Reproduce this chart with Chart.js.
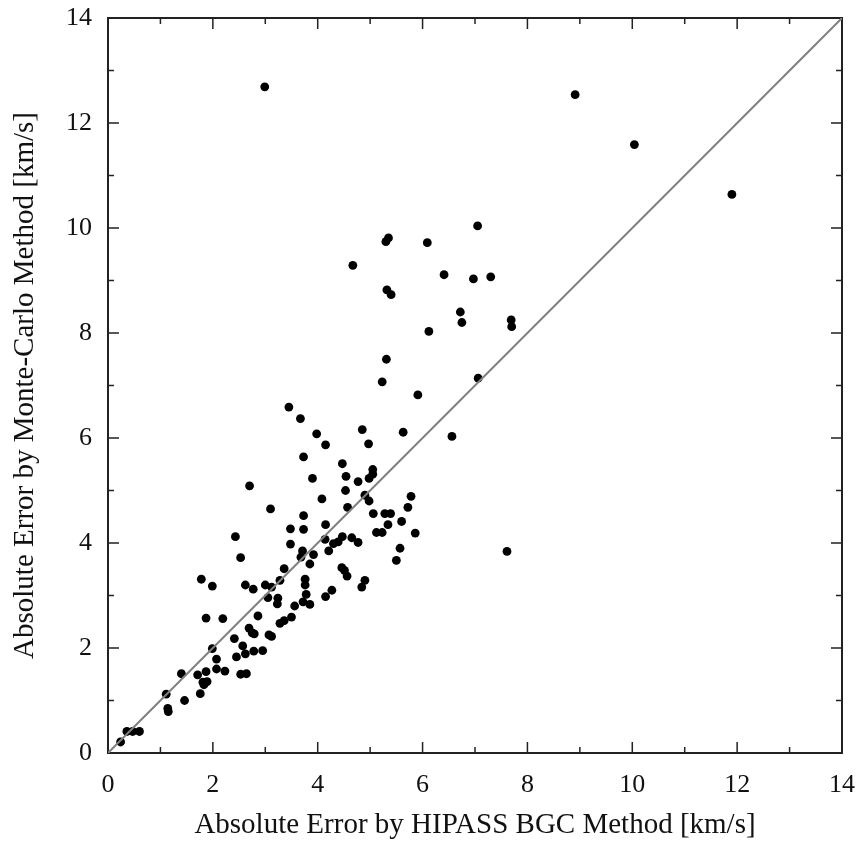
<!DOCTYPE html>
<html>
<head>
<meta charset="utf-8">
<script src="https://cdn.jsdelivr.net/npm/chart.js@4.4.1/dist/chart.umd.min.js"></script>
<style>
  html, body { margin: 0; padding: 0; background: #fff; }
  #wrap { width: 859px; height: 843px; }
</style>
</head>
<body>
<div id="wrap"><canvas id="scatterChart" width="859" height="843"></canvas></div>
<script>
// absolute error by HIPASS BGC method (x) and Monte-Carlo method (y), km/s
const hipassErr = [
  0.24, 0.36, 0.47, 0.60, 1.11, 1.14, 1.15, 1.46, 1.40, 1.76, 1.71, 1.87, 1.81, 1.89, 1.83,
  1.99, 2.07, 2.07, 2.23, 1.78, 1.99, 1.87, 2.19, 2.45, 2.57, 2.62, 2.78, 2.95, 2.53, 2.64,
  2.41, 2.79, 3.12,
  5.23, 5.91, 3.45, 3.67, 3.98, 4.15, 4.85, 5.63, 4.97, 3.73, 3.90, 4.47, 4.54, 4.77, 5.05,
  5.05, 4.98, 4.53, 4.08, 4.90, 4.98, 4.57, 2.70, 3.10, 5.78, 5.72, 5.06, 5.28, 5.39, 5.34,
  5.60, 5.86, 5.12, 5.23, 5.57, 5.50, 3.73, 3.73, 3.48, 3.48, 4.15, 2.43, 2.53, 4.14, 4.21,
  4.30, 4.39, 4.47, 4.65, 4.77, 3.71, 3.68, 3.92, 3.85, 3.36, 3.28, 4.46, 4.51, 4.56, 4.90,
  4.84, 3.76, 3.76, 3.78, 3.72, 3.85, 4.15, 4.27, 2.62, 2.77, 3.00, 3.12, 3.05, 3.24, 3.23,
  3.56, 3.50, 3.36, 3.28, 2.86, 2.69, 2.75, 3.07,
  7.05, 5.35, 5.30, 6.09, 4.67, 6.41, 6.97, 7.30, 5.32, 5.40, 6.72, 6.75, 7.69, 7.70, 6.12,
  5.31, 7.06, 6.56, 7.61,
  2.99, 8.91, 10.04, 11.90
];
const monteCarloErr = [
  0.21, 0.41, 0.41, 0.41, 1.12, 0.85, 0.79, 1.00, 1.51, 1.13, 1.49, 1.55, 1.35, 1.36, 1.30,
  1.99, 1.79, 1.60, 1.56, 3.31, 3.18, 2.57, 2.56, 1.83, 2.04, 1.89, 1.94, 1.95, 1.50, 1.51,
  2.18, 2.27, 2.22,
  7.07, 6.82, 6.59, 6.37, 6.08, 5.87, 6.16, 6.11, 5.89, 5.64, 5.23, 5.51, 5.27, 5.17, 5.40,
  5.31, 5.23, 5.00, 4.84, 4.91, 4.80, 4.68, 5.09, 4.65, 4.89, 4.68, 4.56, 4.56, 4.56, 4.35,
  4.41, 4.19, 4.20, 4.20, 3.90, 3.67, 4.52, 4.26, 4.27, 3.98, 4.35, 4.12, 3.72, 4.07, 3.85,
  3.99, 4.02, 4.12, 4.10, 4.01, 3.85, 3.73, 3.78, 3.60, 3.51, 3.29, 3.53, 3.48, 3.37, 3.29,
  3.16, 3.31, 3.20, 3.02, 2.88, 2.83, 2.98, 3.10, 3.20, 3.12, 3.20, 3.16, 2.96, 2.95, 2.84,
  2.80, 2.59, 2.52, 2.47, 2.61, 2.38, 2.29, 2.25,
  10.04, 9.81, 9.74, 9.72, 9.29, 9.11, 9.03, 9.07, 8.82, 8.73, 8.40, 8.20, 8.25, 8.12, 8.03,
  7.50, 7.14, 6.03, 3.84,
  12.69, 12.54, 11.59, 10.64
];
const equalLine = [0, 14];
const axisMin = 0;
const axisMax = 14;
const tickStep = 2;

const serif = "'Liberation Serif', 'Times New Roman', serif";

const points = hipassErr.map((x, i) => ({ x: x, y: monteCarloErr[i] }));
const diag = equalLine.map(v => ({ x: v, y: v }));

// border box plus inward ticks on all four sides (long at even, short at odd)
const frameTicks = {
  id: "frameTicks",
  beforeDatasetsDraw(chart) {
    const { ctx, chartArea: a, scales } = chart;
    const sx = scales.x, sy = scales.y;
    ctx.save();
    ctx.strokeStyle = "#222";
    ctx.lineWidth = 1.5;
    ctx.beginPath();
    for (let v = axisMin + 1; v < axisMax; v++) {
      const len = v % tickStep === 0 ? 11 : 6;
      const px = sx.getPixelForValue(v);
      const py = sy.getPixelForValue(v);
      ctx.moveTo(px, a.bottom); ctx.lineTo(px, a.bottom - len);
      ctx.moveTo(px, a.top); ctx.lineTo(px, a.top + len);
      ctx.moveTo(a.left, py); ctx.lineTo(a.left + len, py);
      ctx.moveTo(a.right, py); ctx.lineTo(a.right - len, py);
    }
    ctx.stroke();
    ctx.lineWidth = 2;
    ctx.strokeRect(a.left, a.top, a.right - a.left, a.bottom - a.top);
    ctx.restore();
  }
};

new Chart(document.getElementById("scatterChart").getContext("2d"), {
  type: "scatter",
  data: {
    datasets: [
      {
        label: "y = x",
        data: diag,
        showLine: true,
        borderColor: "#808080",
        borderWidth: 2,
        pointRadius: 0,
        pointHoverRadius: 0
      },
      {
        label: "galaxies",
        data: points,
        backgroundColor: "#000",
        borderColor: "#000",
        borderWidth: 0,
        pointRadius: 4.4
      }
    ]
  },
  options: {
    responsive: false,
    animation: false,
    devicePixelRatio: 1,
    layout: { padding: { left: 0, right: 17, top: 18, bottom: 0 } },
    plugins: { legend: { display: false }, tooltip: { enabled: false } },
    scales: {
      x: {
        type: "linear",
        min: axisMin,
        max: axisMax,
        afterFit(s) { s.height = 90; s.paddingLeft = 0; s.paddingRight = 0; },
        grid: { display: false, drawTicks: false, tickLength: 0 },
        border: { display: false },
        ticks: {
          stepSize: tickStep,
          padding: 17,
          maxRotation: 0,
          color: "#111",
          font: { family: serif, size: 26 }
        },
        title: {
          display: true,
          text: "Absolute Error by HIPASS BGC Method [km/s]",
          color: "#111",
          font: { family: serif, size: 29 },
          padding: { top: 0, bottom: 0 }
        }
      },
      y: {
        type: "linear",
        min: axisMin,
        max: axisMax,
        afterFit(s) { s.width = 108; s.paddingTop = 0; s.paddingBottom = 0; },
        grid: { display: false, drawTicks: false, tickLength: 0 },
        border: { display: false },
        ticks: {
          stepSize: tickStep,
          padding: 16,
          color: "#111",
          font: { family: serif, size: 26 }
        },
        title: {
          display: true,
          text: "Absolute Error by Monte-Carlo Method [km/s]",
          color: "#111",
          font: { family: serif, size: 29 },
          padding: { top: 8, bottom: 0 }
        }
      }
    }
  },
  plugins: [frameTicks]
});
</script>
</body>
</html>
